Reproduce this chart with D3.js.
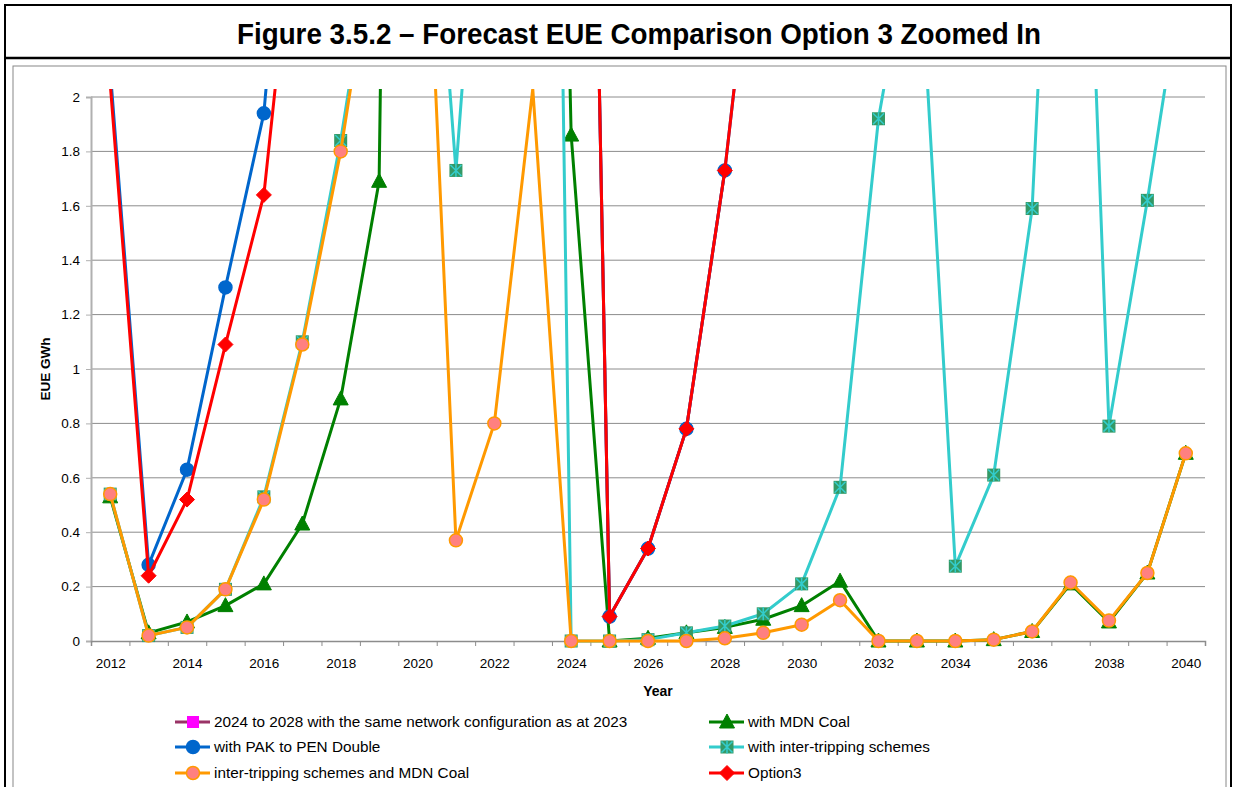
<!DOCTYPE html>
<html>
<head>
<meta charset="utf-8">
<script src="https://cdn.jsdelivr.net/npm/d3@7/dist/d3.min.js"></script>
<style>
  body { margin: 0; background: #fff; }
  svg { display: block; font-family: Arial, "Liberation Sans", sans-serif; }
</style>
</head>
<body>
<div id="chart"></div>
<script>
var years = d3.range(2012, 2041);
var yTicks = [0, 0.2, 0.4, 0.6, 0.8, 1, 1.2, 1.4, 1.6, 1.8, 2];
var xLabels = [2012, 2014, 2016, 2018, 2020, 2022, 2024, 2026, 2028, 2030, 2032, 2034, 2036, 2038, 2040];

// values per year 2012..2040 (null = no point); values above 2 run off the zoomed plot
var sameNetwork = [null, null, null, null, null, null, null, null, null, null, null, null,
    7.4, 0.09, 0.34, 0.78, 1.73, null, null, null, null, null, null, null, null, null, null, null, null];
var mdnCoal = [0.53, 0.03, 0.07, 0.13, 0.21, 0.43, 0.89, 1.69, 12, 12, 12, 8,
    1.86, 0.0, 0.01, 0.03, 0.05, 0.08, 0.13, 0.22, 0, 0, 0, 0.005, 0.035, 0.21, 0.07, 0.25, 0.69];
var pakPen = [2.1, 0.28, 0.63, 1.30, 1.94, 3.55, null, null, null, null, null, null,
    7.4, 0.09, 0.34, 0.78, 1.73, 2.97, null, null, null, null, null, null, null, null, null, null, null];
var interTrip = [0.54, 0.02, 0.05, 0.19, 0.53, 1.10, 1.84, 2.73, 3.6, 1.73, 3.6, 9.6,
    0, 0, 0.005, 0.03, 0.055, 0.10, 0.21, 0.565, 1.92, 2.72, 0.275, 0.61, 1.59, 4.5, 0.79, 1.62, 2.52];
var interTripMdn = [0.54, 0.02, 0.05, 0.19, 0.52, 1.09, 1.80, 2.7, 3.5, 0.37, 0.80, 2.03,
    0, 0, 0, 0, 0.01, 0.03, 0.06, 0.15, 0, 0, 0, 0.005, 0.035, 0.215, 0.075, 0.25, 0.69];
var option3 = [2.05, 0.24, 0.52, 1.09, 1.64, 2.97, null, null, null, null, null, null,
    7.4, 0.09, 0.34, 0.78, 1.73, 2.97, null, null, null, null, null, null, null, null, null, null, null];

var seriesNames = ["2024 to 2028 with the same network configuration as at 2023", "with MDN Coal",
    "with PAK to PEN Double", "with inter-tripping schemes", "inter-tripping schemes and MDN Coal", "Option3"];

var series = [
    { name: seriesNames[0], values: sameNetwork, line: "#993366", marker: "square", fill: "#ff00ff", stroke: "#ff00ff" },
    { name: seriesNames[1], values: mdnCoal, line: "#008000", marker: "triangle", fill: "#008000", stroke: "#008000" },
    { name: seriesNames[2], values: pakPen, line: "#0066cc", marker: "circle", fill: "#0066cc", stroke: "#0066cc" },
    { name: seriesNames[3], values: interTrip, line: "#33cccc", marker: "xsquare", fill: "#339966", stroke: "#33cccc" },
    { name: seriesNames[4], values: interTripMdn, line: "#ff9900", marker: "circle", fill: "#ff8080", stroke: "#ff9900" },
    { name: seriesNames[5], values: option3, line: "#ff0000", marker: "diamond", fill: "#ff0000", stroke: "#ff0000" }
];

var W = 1236, H = 787;
var svg = d3.select("#chart").append("svg").attr("width", W).attr("height", H);

// outer frame and title box
svg.append("rect").attr("x", 5).attr("y", 5).attr("width", 1226).attr("height", 800)
    .attr("fill", "none").attr("stroke", "#000").attr("stroke-width", 2);
svg.append("line").attr("x1", 5).attr("x2", 1231).attr("y1", 58).attr("y2", 58)
    .attr("stroke", "#000").attr("stroke-width", 2.5);
svg.append("text").attr("x", 639).attr("y", 44).attr("text-anchor", "middle")
    .attr("font-size", 29).attr("font-weight", "bold")
    .attr("textLength", 804).attr("lengthAdjust", "spacingAndGlyphs")
    .text("Figure 3.5.2 \u2013 Forecast EUE Comparison Option 3 Zoomed In");

// chart area border
svg.append("rect").attr("x", 13).attr("y", 66).attr("width", 1213).attr("height", 730)
    .attr("fill", "none").attr("stroke", "#888").attr("stroke-width", 1);

var plotLeft = 91, plotRight = 1205, plotTop = 97, plotBottom = 641;
var x = d3.scaleLinear().domain([2011.5, 2040.5]).range([plotLeft, plotRight]);
var y = d3.scaleLinear().domain([0, 2]).range([plotBottom, plotTop]);

// gridlines
svg.append("g").selectAll("line").data(yTicks.slice(1)).enter().append("line")
    .attr("x1", plotLeft).attr("x2", plotRight)
    .attr("y1", function(d) { return y(d); }).attr("y2", function(d) { return y(d); })
    .attr("stroke", "#8c8c8c").attr("stroke-width", 1);

// y axis
var yAxis = svg.append("g").attr("transform", "translate(" + plotLeft + ",0)")
    .call(d3.axisLeft(y).tickValues(yTicks).tickSize(5).tickPadding(6)
        .tickFormat(function(d) { return d3.format("~g")(d); }));
yAxis.select(".domain").attr("stroke", "#b0b0b0").attr("stroke-width", 2);
yAxis.selectAll(".tick line").attr("stroke", "#b0b0b0");
yAxis.selectAll("text").attr("font-size", 13.5).attr("fill", "#000").attr("font-family", "Arial, sans-serif");

// x axis: ticks between categories, labels every second year
var xTickVals = d3.range(2011.5, 2041, 1);
var xAxis = svg.append("g").attr("transform", "translate(0," + plotBottom + ")")
    .call(d3.axisBottom(x).tickValues(xTickVals).tickSize(5).tickFormat(""));
xAxis.select(".domain").attr("stroke", "#8c8c8c").attr("stroke-width", 1.5);
xAxis.selectAll(".tick line").attr("stroke", "#8c8c8c");

var xLab = svg.append("g").attr("transform", "translate(0," + plotBottom + ")")
    .call(d3.axisBottom(x).tickValues(xLabels).tickSize(0).tickPadding(17).tickFormat(d3.format("d")));
xLab.select(".domain").remove();
xLab.selectAll("text").attr("font-size", 13.5).attr("fill", "#000").attr("font-family", "Arial, sans-serif");

// axis titles
svg.append("text").attr("x", 658).attr("y", 696).attr("text-anchor", "middle")
    .attr("font-size", 14).attr("font-weight", "bold").text("Year");
svg.append("text").attr("transform", "translate(50," + (y(1)) + ") rotate(-90)")
    .attr("text-anchor", "middle").attr("font-size", 13.5).attr("font-weight", "bold").text("EUE GWh");

// clip to plot area
svg.append("clipPath").attr("id", "plotclip").append("rect")
    .attr("x", plotLeft).attr("y", 89).attr("width", plotRight - plotLeft).attr("height", plotBottom - 89 + 10);

var line = d3.line()
    .defined(function(d) { return d.v != null; })
    .x(function(d) { return x(d.year); })
    .y(function(d) { return y(d.v); });

function drawMarker(g, type, fill, stroke, cx, cy, inLegend) {
    if (type == "circle") {
        g.append("circle").attr("cx", cx).attr("cy", cy).attr("r", 6.5)
            .attr("fill", fill).attr("stroke", stroke).attr("stroke-width", 1.5);
    } else if (type == "square") {
        var h = inLegend ? 5.5 : 4;
        g.append("rect").attr("x", cx - h).attr("y", cy - h).attr("width", 2 * h).attr("height", 2 * h)
            .attr("fill", fill).attr("stroke", stroke);
    } else if (type == "xsquare") {
        g.append("rect").attr("x", cx - 6.5).attr("y", cy - 6.5).attr("width", 13).attr("height", 13)
            .attr("fill", fill);
        g.append("path").attr("d", "M" + (cx - 5.5) + "," + (cy - 5.5) + "L" + (cx + 5.5) + "," + (cy + 5.5) +
            "M" + (cx + 5.5) + "," + (cy - 5.5) + "L" + (cx - 5.5) + "," + (cy + 5.5) +
            "M" + cx + "," + (cy - 6.5) + "L" + cx + "," + (cy + 6.5))
            .attr("stroke", stroke).attr("stroke-width", 1.5).attr("fill", "none");
    } else if (type == "triangle") {
        g.append("path").attr("d", "M" + cx + "," + (cy - 8) + "L" + (cx + 7.5) + "," + (cy + 6) +
            "L" + (cx - 7.5) + "," + (cy + 6) + "Z").attr("fill", fill).attr("stroke", stroke);
    } else if (type == "diamond") {
        g.append("path").attr("d", "M" + cx + "," + (cy - 7.5) + "L" + (cx + 7.5) + "," + cy +
            "L" + cx + "," + (cy + 7.5) + "L" + (cx - 7.5) + "," + cy + "Z").attr("fill", fill).attr("stroke", stroke);
    }
}

var plot = svg.append("g").attr("clip-path", "url(#plotclip)");
series.forEach(function(s) {
    var pts = years.map(function(yr, i) { return { year: yr, v: s.values[i] }; });
    var g = plot.append("g");
    g.append("path").datum(pts).attr("d", line)
        .attr("fill", "none").attr("stroke", s.line).attr("stroke-width", 3)
        .attr("stroke-linejoin", "round");
    pts.forEach(function(p) {
        if (p.v != null && p.v <= 2) {
            drawMarker(g, s.marker, s.fill, s.stroke, x(p.year), y(p.v), false);
        }
    });
});

// legend, two columns, three rows
var legPos = [[193, 722], [727, 722], [193, 747], [727, 747], [193, 773], [727, 773]];
series.forEach(function(s, i) {
    var cx = legPos[i][0], cy = legPos[i][1];
    var g = svg.append("g");
    g.append("line").attr("x1", cx - 18).attr("x2", cx + 17).attr("y1", cy).attr("y2", cy)
        .attr("stroke", s.line).attr("stroke-width", 3);
    drawMarker(g, s.marker, s.fill, s.stroke, cx, cy, true);
    g.append("text").attr("x", cx + 21).attr("y", cy + 5).attr("font-size", 15.3).text(s.name);
});
</script>
</body>
</html>
